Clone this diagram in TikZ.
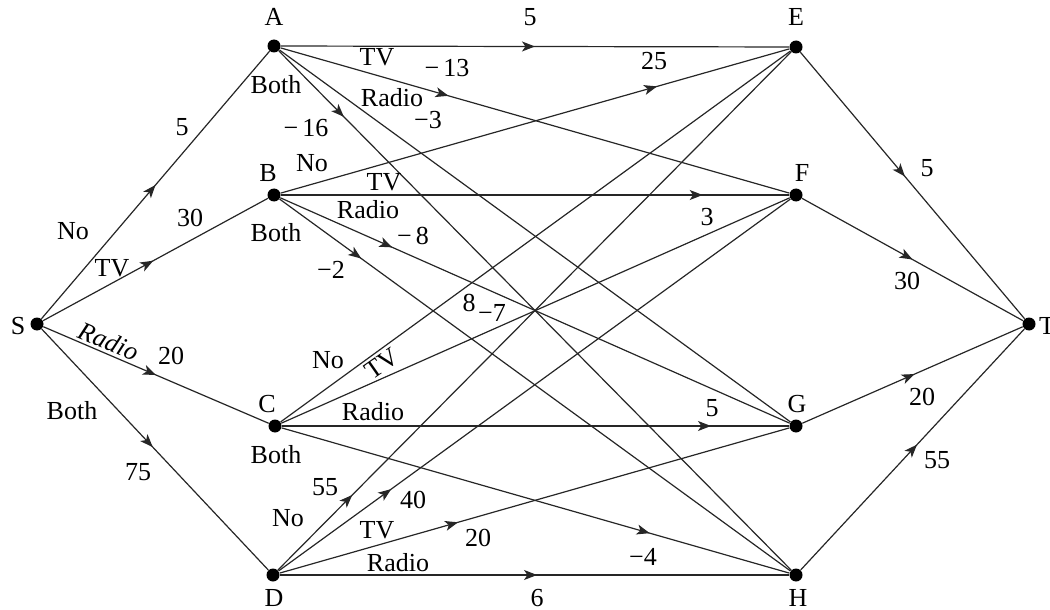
\documentclass[tikz,border=0pt]{standalone}
\usepackage{fontspec}
\setmainfont{Liberation Serif}
\usetikzlibrary{arrows.meta,decorations.markings}

\tikzset{
  vertex/.style={circle,fill=black,inner sep=0pt,minimum size=6.5pt},
  edge/.style={line width=0.6pt,draw=black!85},
  arr/.style={postaction={decorate},decoration={markings,
      mark=at position #1 with {\arrow{Stealth[length=6.5pt,width=5pt,inset=1.7pt]}}}},
  lbl/.style={font=\fontsize{13}{15}\selectfont,inner sep=0pt}
}

\begin{document}
\begin{tikzpicture}[x=0.5pt,y=-0.5pt]
    \useasboundingbox (0,0) rectangle (1050,610);

    % vertices
    \node[vertex] (S) at (37,324) {};
    \node[vertex] (A) at (274,46) {};
    \node[vertex] (B) at (274,195) {};
    \node[vertex] (C) at (275,426) {};
    \node[vertex] (D) at (273,575) {};
    \node[vertex] (E) at (796,47) {};
    \node[vertex] (F) at (796,195) {};
    \node[vertex] (G) at (796,426) {};
    \node[vertex] (H) at (796,575) {};
    \node[vertex] (T) at (1029,324) {};

    \node[lbl] (nS) at (18,326) {S};
    \node[lbl] (nT) at (1047,326) {T};
    \node[lbl] (nA) at (274,17) {A};
    \node[lbl] (nB) at (268,173) {B};
    \node[lbl] (nC) at (267,404) {C};
    \node[lbl] (nD) at (274,598) {D};
    \node[lbl] (nE) at (796,17) {E};
    \node[lbl] (nF) at (802,173) {F};
    \node[lbl] (nG) at (797,404) {G};
    \node[lbl] (nH) at (798,598) {H};

    % from S
    \draw[edge,arr=0.5] (S) -- (A);
    \draw[edge,arr=0.49] (S) -- (B);
    \draw[edge,arr=0.5] (S) -- (C);
    \draw[edge,arr=0.49] (S) -- (D);
    \node[lbl] (sa) at (182,127) {5};
    \node[lbl] (sano) at (73,231) {No};
    \node[lbl] (sb) at (190,218) {30};
    \node[lbl] (sbtv) at (112,268) {TV};
    \node[lbl,rotate=-23,font=\fontsize{13}{15}\selectfont\itshape] (scr) at (109,341) {Radio};
    \node[lbl] (sc) at (171,356) {20};
    \node[lbl] (sdb) at (72,411) {Both};
    \node[lbl] (sd) at (138,472) {75};

    % from A
    \draw[edge,arr=0.5] (A) -- (E);
    \draw[edge,arr=0.33] (A) -- (F);
    \draw[edge] (A) -- (G);
    \draw[edge,arr=0.127] (A) -- (H);
    \node[lbl] (ae) at (530,17) {5};
    \node[lbl] (aftv) at (377,57) {TV};
    \node[lbl] (af) at (447,68) {−\,13};
    \node[lbl] (ahb) at (276,85) {Both};
    \node[lbl] (agr) at (392,98) {Radio};
    \node[lbl] (ag) at (428,120) {−3};
    \node[lbl] (ah) at (306,128) {−\,16};

    % from B
    \draw[edge,arr=0.74] (B) -- (E);
    \draw[edge,arr=0.83] (B) -- (F);
    \draw[edge,arr=0.22] (B) -- (G);
    \draw[edge,arr=0.16] (B) -- (H);
    \node[lbl] (beno) at (312,163) {No};
    \node[lbl] (be) at (654,61) {25};
    \node[lbl] (bftv) at (384,182) {TV};
    \node[lbl] (bf) at (707,217) {3};
    \node[lbl] (bgr) at (368,210) {Radio};
    \node[lbl] (bg) at (413,236) {−\,8};
    \node[lbl] (bhb) at (276,233) {Both};
    \node[lbl] (bh) at (331,270) {−2};

    % from C
    \draw[edge] (C) -- (E);
    \draw[edge] (C) -- (F);
    \draw[edge,arr=0.846] (C) -- (G);
    \draw[edge,arr=0.725] (C) -- (H);
    \node[lbl] (ce) at (469,303) {8};
    \node[lbl] (cf) at (492,313) {−7};
    \node[lbl] (ceno) at (328,360) {No};
    \node[lbl,rotate=35] (cftv) at (382,364) {TV};
    \node[lbl] (cgr) at (373,412) {Radio};
    \node[lbl] (cg) at (712,408) {5};
    \node[lbl] (chb) at (276,455) {Both};
    \node[lbl] (ch) at (643,557) {−4};

    % from D
    \draw[edge,arr=0.145] (D) -- (E);
    \draw[edge,arr=0.22] (D) -- (F);
    \draw[edge,arr=0.35] (D) -- (G);
    \draw[edge,arr=0.505] (D) -- (H);
    \node[lbl] (de) at (325,487) {55};
    \node[lbl] (df) at (413,500) {40};
    \node[lbl] (deno) at (288,518) {No};
    \node[lbl] (dgtv) at (377,530) {TV};
    \node[lbl] (dg) at (478,538) {20};
    \node[lbl] (dhr) at (398,563) {Radio};
    \node[lbl] (dh) at (537,598) {6};

    % into T
    \draw[edge,arr=0.466] (E) -- (T);
    \draw[edge,arr=0.5] (F) -- (T);
    \draw[edge,arr=0.51] (G) -- (T);
    \draw[edge,arr=0.52] (H) -- (T);
    \node[lbl] (et) at (927,168) {5};
    \node[lbl] (ft) at (907,281) {30};
    \node[lbl] (gt) at (922,397) {20};
    \node[lbl] (ht) at (937,460) {55};
\end{tikzpicture}
\end{document}
